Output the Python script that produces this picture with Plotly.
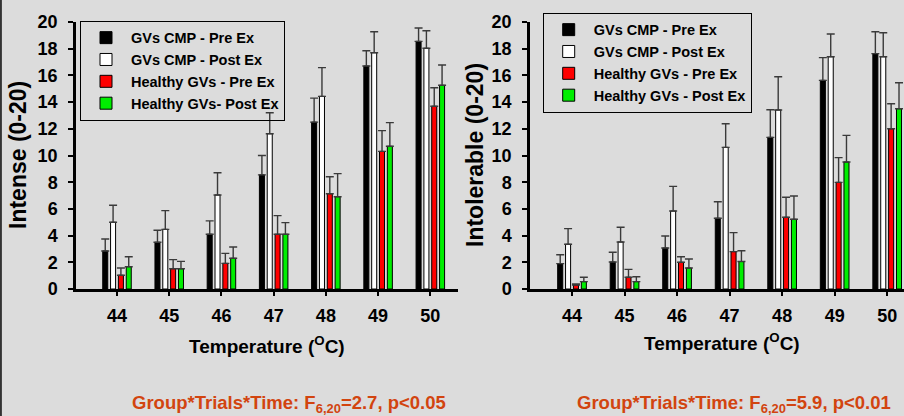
import plotly.graph_objects as go

temps = ["44", "45", "46", "47", "48", "49", "50"]
series_names_left = ["GVs CMP - Pre Ex", "GVs CMP - Post Ex", "Healthy GVs - Pre Ex", "Healthy GVs- Post Ex"]
series_names_right = ["GVs CMP - Pre Ex", "GVs CMP - Post Ex", "Healthy GVs - Pre Ex", "Healthy GVs - Post Ex"]
colors = ["#000000", "#ffffff", "#ff0000", "#00ee00"]

# Intense (0-20)
intense_cmp_pre = [2.85, 3.5, 4.1, 8.55, 12.5, 16.7, 18.55]
intense_cmp_pre_err = [0.9, 0.9, 1.0, 1.45, 1.8, 1.15, 1.0]
intense_cmp_post = [5.0, 4.47, 7.04, 11.63, 14.43, 17.7, 18.03]
intense_cmp_post_err = [1.27, 1.4, 1.67, 1.57, 2.15, 1.57, 1.32]
intense_h_pre = [1.03, 1.52, 1.92, 4.1, 7.14, 10.31, 13.69]
intense_h_pre_err = [0.54, 0.68, 0.75, 1.4, 1.27, 1.55, 1.39]
intense_h_post = [1.67, 1.52, 2.3, 4.1, 6.91, 10.69, 15.26]
intense_h_post_err = [0.75, 0.55, 0.85, 0.87, 1.73, 1.77, 1.52]

# Intolerable (0-20)
intol_cmp_pre = [1.9, 2.02, 3.07, 5.3, 11.36, 15.63, 17.63]
intol_cmp_pre_err = [0.67, 0.73, 0.9, 1.24, 2.07, 1.7, 1.64]
intol_cmp_post = [3.35, 3.52, 5.84, 10.61, 13.41, 17.4, 17.4]
intol_cmp_post_err = [1.17, 1.1, 1.85, 1.77, 2.49, 1.7, 1.8]
intol_h_pre = [0.3, 0.88, 2.0, 2.8, 5.37, 7.99, 12.0]
intol_h_pre_err = [0.08, 0.59, 0.42, 1.42, 1.5, 1.85, 1.88]
intol_h_post = [0.55, 0.55, 1.57, 2.06, 5.22, 9.51, 13.5]
intol_h_post_err = [0.33, 0.37, 0.68, 0.81, 1.75, 2.0, 1.95]

left_vals = [intense_cmp_pre, intense_cmp_post, intense_h_pre, intense_h_post]
left_errs = [intense_cmp_pre_err, intense_cmp_post_err, intense_h_pre_err, intense_h_post_err]
right_vals = [intol_cmp_pre, intol_cmp_post, intol_h_pre, intol_h_post]
right_errs = [intol_cmp_pre_err, intol_cmp_post_err, intol_h_pre_err, intol_h_post_err]

FONT = "Liberation Sans, Arial, sans-serif"

fig = go.Figure()

def add_bars(vals, errs, names, xaxis, yaxis, legend):
    for v, e, n, c in zip(vals, errs, names, colors):
        fig.add_trace(go.Bar(
            x=temps, y=v, name=n, xaxis=xaxis, yaxis=yaxis, legend=legend,
            marker=dict(color=c, line=dict(color="#000000", width=1)),
            error_y=dict(type="data", symmetric=False, array=e, arrayminus=[0] * len(e),
                         color="#3a3a3a", thickness=1.4, width=4),
        ))

add_bars(left_vals, left_errs, series_names_left, "x", "y", "legend")
add_bars(right_vals, right_errs, series_names_right, "x2", "y2", "legend2")

W, H = 904, 416
axis_common = dict(showline=True, linecolor="black", linewidth=2.5, mirror=False,
                   showgrid=False, zeroline=False, automargin=False,
                   tickfont=dict(family=FONT, size=18, color="black", weight="bold"))

ydom = [(416 - 289) / H, (416 - 22) / H]
legend_font = dict(family=FONT, size=14.5, weight="bold", color="black")

fig.update_layout(
    template="none",
    width=W, height=H, autosize=False,
    margin=dict(l=0, r=0, t=0, b=0, pad=0, autoexpand=False),
    paper_bgcolor="#dcdcdc", plot_bgcolor="rgba(0,0,0,0)",
    barmode="group", bargap=0.40, bargroupgap=0.36,
    font=dict(family=FONT, color="black"),
    xaxis=dict(type="category", domain=[76 / W, 458 / W], range=[-0.785, 6.53], anchor="y",
               ticks="outside", ticklen=4, tickwidth=2, tickcolor="black",
               ticklabelstandoff=5, **axis_common),
    yaxis=dict(domain=ydom, range=[0, 20], anchor="x", tickvals=list(range(0, 21, 2)),
               ticks="outside", ticklen=5, tickwidth=2, tickcolor="black",
               ticklabelstandoff=7, **axis_common),
    xaxis2=dict(type="category", domain=[530 / W, 1.0], range=[-0.8, 6.32], anchor="y2",
                ticks="outside", ticklen=4, tickwidth=2, tickcolor="black",
                ticklabelstandoff=5, **axis_common),
    yaxis2=dict(domain=ydom, range=[0, 20], anchor="x2", tickvals=list(range(0, 21, 2)),
                ticks="outside", ticklen=5, tickwidth=2, tickcolor="black",
                ticklabelstandoff=7, **axis_common),
    legend=dict(x=80 / W, y=1 - 20.7 / H, xanchor="left", yanchor="top",
                bgcolor="rgba(0,0,0,0)", bordercolor="black", borderwidth=1,
                font=legend_font, tracegroupgap=0, itemwidth=40),
    legend2=dict(x=542.7 / W, y=1 - 12.7 / H, xanchor="left", yanchor="top",
                 bgcolor="rgba(0,0,0,0)", bordercolor="black", borderwidth=1,
                 font=legend_font, tracegroupgap=0, itemwidth=40),
    showlegend=True,
)

ann_font = dict(family=FONT, size=23, color="black", weight="bold")
xt_font = dict(family=FONT, size=19, color="black", weight="bold")
red_font = dict(family=FONT, size=18.5, color="#d2440f", weight="bold")

annotations = [
    dict(text="Intense (0-20)", x=18 / W, y=1 - 155 / H, textangle=-90, font=ann_font),
    dict(text="Intolerable (0-20)", x=475 / W, y=1 - 155 / H, textangle=-90, font=ann_font),
    dict(text="Temperature (<sup>O</sup>C)", x=267 / W, y=1 - 345 / H, font=xt_font),
    dict(text="Temperature (<sup>O</sup>C)", x=722 / W, y=1 - 342 / H, font=xt_font),
    dict(text="Group*Trials*Time: F<sub>6,20</sub>=2.7, p<0.05", x=289 / W, y=1 - 404 / H, font=red_font),
    dict(text="Group*Trials*Time: F<sub>6,20</sub>=5.9, p<0.01", x=734 / W, y=1 - 404 / H, font=red_font),
]
for a in annotations:
    a.update(xref="paper", yref="paper", showarrow=False, xanchor="center", yanchor="middle")
fig.update_layout(annotations=annotations)

fig.add_shape(type="line", xref="paper", yref="paper", x0=0.001, x1=0.001, y0=0, y1=1,
              line=dict(color="#333333", width=2))

fig.write_html(
    "out.html",
    config={"responsive": False, "displayModeBar": False},
    post_script="document.body.style.margin='0';document.body.style.padding='0';"
                "document.body.style.overflow='hidden';"
                "document.documentElement.style.overflow='hidden';",
)
